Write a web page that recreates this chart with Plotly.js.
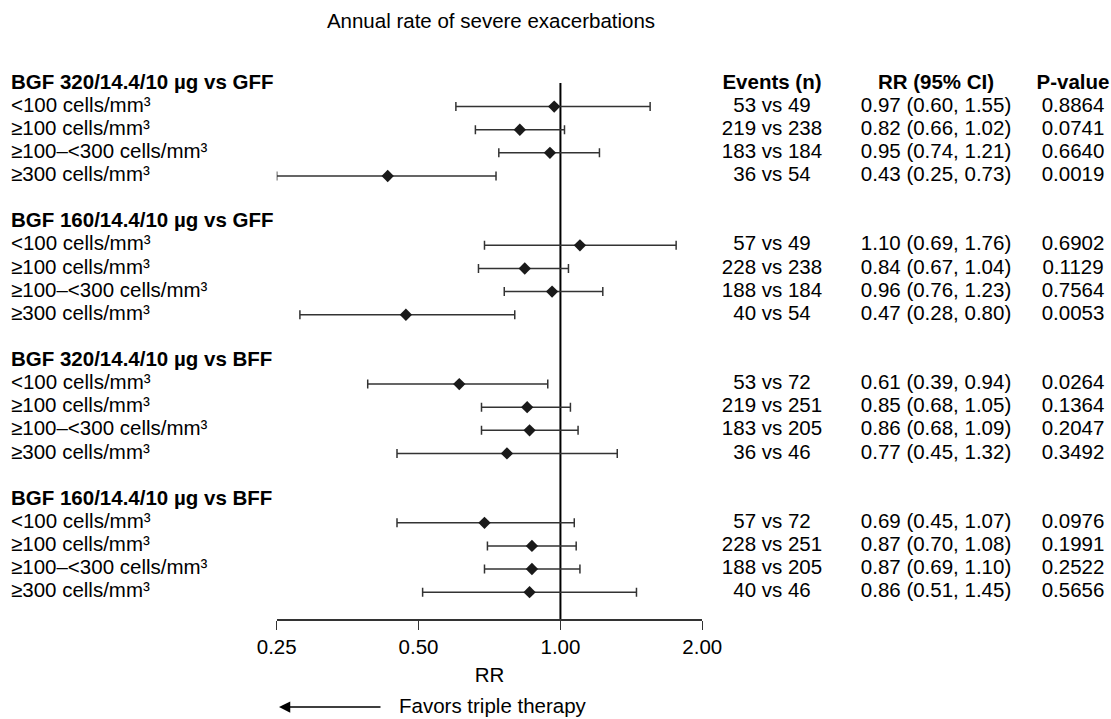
<!DOCTYPE html>
<html>
<head>
<meta charset="utf-8">
<script src="https://cdn.plot.ly/plotly-3.0.1.min.js"></script>
<style>html,body{margin:0;padding:0;background:#fff;}#chart{width:1111px;height:719px;}</style>
</head>
<body>
<div id="chart"></div>
<script>
// ---- data ----
var groups = ["BGF 320/14.4/10 µg vs GFF", "BGF 160/14.4/10 µg vs GFF", "BGF 320/14.4/10 µg vs BFF", "BGF 160/14.4/10 µg vs BFF"];
var subgroups = ["<100 cells/mm³", "≥100 cells/mm³", "≥100–<300 cells/mm³", "≥300 cells/mm³"];
var columnHeaders = ["Events (n)", "RR (95% CI)", "P-value"];

var rrG1 = [0.97, 0.82, 0.95, 0.43];
var loG1 = [0.60, 0.66, 0.74, 0.25];
var hiG1 = [1.55, 1.02, 1.21, 0.73];
var evG1 = ["53 vs 49", "219 vs 238", "183 vs 184", "36 vs 54"];
var pG1 = ["0.8864", "0.0741", "0.6640", "0.0019"];

var rrG2 = [1.10, 0.84, 0.96, 0.47];
var loG2 = [0.69, 0.67, 0.76, 0.28];
var hiG2 = [1.76, 1.04, 1.23, 0.80];
var evG2 = ["57 vs 49", "228 vs 238", "188 vs 184", "40 vs 54"];
var pG2 = ["0.6902", "0.1129", "0.7564", "0.0053"];

var rrG3 = [0.61, 0.85, 0.86, 0.77];
var loG3 = [0.39, 0.68, 0.68, 0.45];
var hiG3 = [0.94, 1.05, 1.09, 1.32];
var evG3 = ["53 vs 72", "219 vs 251", "183 vs 205", "36 vs 46"];
var pG3 = ["0.0264", "0.1364", "0.2047", "0.3492"];

var rrG4 = [0.69, 0.87, 0.87, 0.86];
var loG4 = [0.45, 0.70, 0.69, 0.51];
var hiG4 = [1.07, 1.08, 1.10, 1.45];
var evG4 = ["57 vs 72", "228 vs 251", "188 vs 205", "40 vs 46"];
var pG4 = ["0.0976", "0.1991", "0.2522", "0.5656"];

var xTickVals = [0.25, 0.5, 1, 2];
var xTickText = ["0.25", "0.50", "1.00", "2.00"];

// ---- build ----
var rrAll = [rrG1, rrG2, rrG3, rrG4];
var loAll = [loG1, loG2, loG3, loG4];
var hiAll = [hiG1, hiG2, hiG3, hiG4];
var evAll = [evG1, evG2, evG3, evG4];
var pAll = [pG1, pG2, pG3, pG4];

var W = 1111;
var colLabelX = 11, colEventsX = 772, colRRX = 936, colPX = 1073;

var headerY = [], headerX = [];
var rowY = [], rowLabel = [], rowLabelX = [];
var xs = [], errP = [], errM = [], evText = [], evX = [], rrText = [], rrX = [], pText = [], pX = [];
for (var g = 0; g < groups.length; g++) {
  headerY.push(g * 6); headerX.push(colLabelX);
  for (var i = 0; i < subgroups.length; i++) {
    var y = g * 6 + 1 + i;
    var r = rrAll[g][i], lo = loAll[g][i], hi = hiAll[g][i];
    rowY.push(y); rowLabel.push(subgroups[i]); rowLabelX.push(colLabelX);
    xs.push(r); errP.push(hi - r); errM.push(r - lo);
    evText.push(evAll[g][i]); evX.push(colEventsX);
    rrText.push(r.toFixed(2) + " (" + lo.toFixed(2) + ", " + hi.toFixed(2) + ")"); rrX.push(colRRX);
    pText.push(pAll[g][i]); pX.push(colPX);
  }
}

var FONT = "Liberation Sans, Arial, sans-serif";
var FS = 20.5;
var regular = {family: FONT, size: FS, color: "#000"};
var bold = {family: FONT, size: FS, color: "#000", weight: "bold"};

var traces = [
  {
    type: "scatter", mode: "markers", x: xs, y: rowY, xaxis: "x", yaxis: "y",
    marker: {symbol: "diamond", size: 9.5, color: "#1a1a1a"},
    error_x: {type: "data", symmetric: false, array: errP, arrayminus: errM,
              color: "#333", thickness: 1.5, width: 4.5},
    hoverinfo: "skip", cliponaxis: false, showlegend: false
  },
  {type: "scatter", mode: "text", x: headerX, y: headerY, text: groups, xaxis: "x2", yaxis: "y",
   textposition: "middle right", textfont: bold, hoverinfo: "skip", cliponaxis: false, showlegend: false},
  {type: "scatter", mode: "text", x: rowLabelX, y: rowY, text: rowLabel, xaxis: "x2", yaxis: "y",
   textposition: "middle right", textfont: regular, hoverinfo: "skip", cliponaxis: false, showlegend: false},
  {type: "scatter", mode: "text", x: [colEventsX, colRRX, colPX], y: [0, 0, 0], text: columnHeaders, xaxis: "x2", yaxis: "y",
   textposition: "middle center", textfont: bold, hoverinfo: "skip", cliponaxis: false, showlegend: false},
  {type: "scatter", mode: "text", x: evX, y: rowY, text: evText, xaxis: "x2", yaxis: "y",
   textposition: "middle center", textfont: regular, hoverinfo: "skip", cliponaxis: false, showlegend: false},
  {type: "scatter", mode: "text", x: rrX, y: rowY, text: rrText, xaxis: "x2", yaxis: "y",
   textposition: "middle center", textfont: regular, hoverinfo: "skip", cliponaxis: false, showlegend: false},
  {type: "scatter", mode: "text", x: pX, y: rowY, text: pText, xaxis: "x2", yaxis: "y",
   textposition: "middle center", textfont: regular, hoverinfo: "skip", cliponaxis: false, showlegend: false}
];

var plotTop = 83, plotBottom = 619, H = 719;
var plotH = plotBottom - plotTop;
function py(pixel) { return (plotBottom - pixel) / plotH; }

var layout = {
  width: W, height: H,
  margin: {l: 0, r: 0, t: plotTop, b: H - plotBottom, pad: 0},
  paper_bgcolor: "#fff", plot_bgcolor: "rgba(0,0,0,0)",
  showlegend: false,
  font: regular,
  title: {text: "Annual rate of severe exacerbations", font: regular,
          x: 491 / W, xref: "paper", xanchor: "center", y: 1 - 21 / H, yref: "container", yanchor: "middle"},
  xaxis: {
    type: "log", domain: [276.7 / W, 702.3 / W], range: [Math.log10(0.25), Math.log10(2)],
    tickvals: xTickVals, ticktext: xTickText, ticks: "outside", ticklen: 9, tickwidth: 1.5, tickcolor: "#333",
    showline: true, linecolor: "#333", linewidth: 1.5, showgrid: false, zeroline: false,
    tickfont: regular, anchor: "y", fixedrange: true,
    title: {text: "RR", font: regular, standoff: 10}
  },
  xaxis2: {domain: [0, 1], range: [0, W], visible: false, anchor: "y", fixedrange: true},
  yaxis: {range: [23.16, -0.02], visible: false, showgrid: false, zeroline: false, fixedrange: true},
  shapes: [
    {type: "line", xref: "x", yref: "paper", x0: 1, x1: 1, y0: 0, y1: 1, layer: "below",
     line: {color: "#000", width: 2}}
  ],
  annotations: [
    {xref: "paper", yref: "paper", x: 279 / W, y: py(707), text: "", showarrow: true,
     axref: "pixel", ayref: "pixel", ax: 103, ay: 0, arrowhead: 2, arrowsize: 1.5, arrowwidth: 1.5, arrowcolor: "#000"},
    {xref: "paper", yref: "paper", x: 397 / W, y: py(705), text: "Favors triple therapy", showarrow: false,
     xanchor: "left", yanchor: "middle", font: regular}
  ]
};

Plotly.newPlot("chart", traces, layout, {displayModeBar: false, staticPlot: true});
</script>
</body>
</html>
